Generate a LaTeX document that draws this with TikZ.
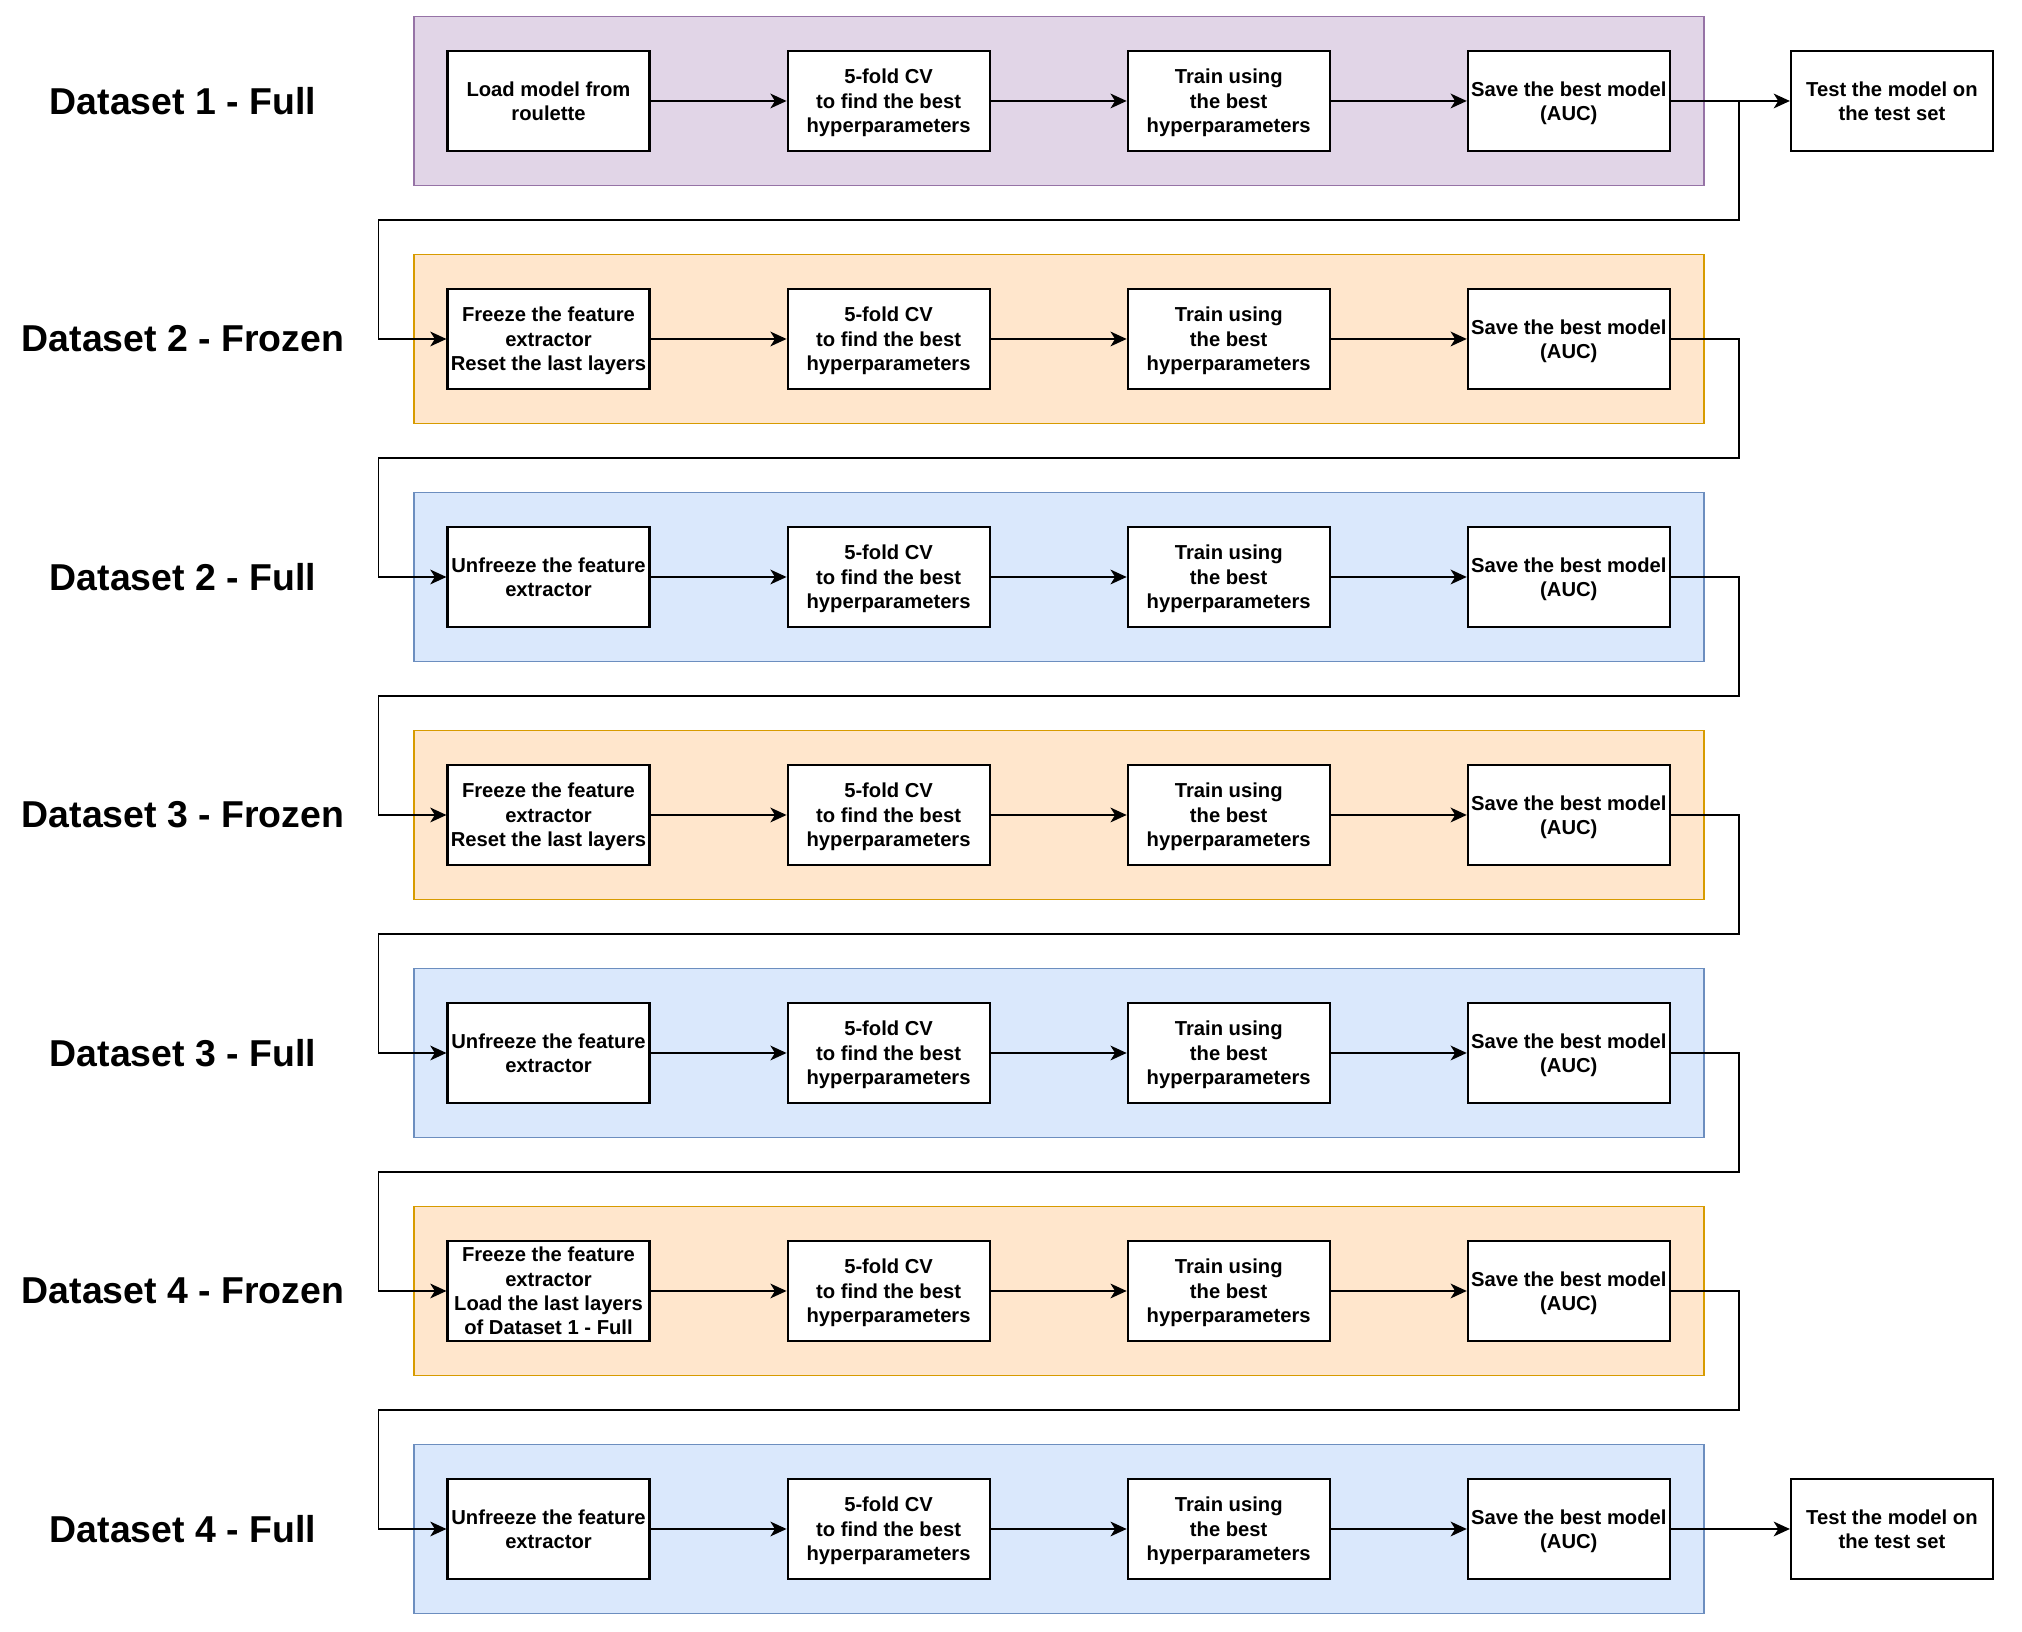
\documentclass[tikz,border=0pt]{standalone}
\usepackage{fontspec}
\setmainfont{Liberation Sans}
\usetikzlibrary{positioning,arrows.meta}

\definecolor{lilacF}{HTML}{E1D5E7}
\definecolor{lilacL}{HTML}{9673A6}
\definecolor{peachF}{HTML}{FFE6CC}
\definecolor{peachL}{HTML}{D79B00}
\definecolor{skyF}{HTML}{DAE8FC}
\definecolor{skyL}{HTML}{6C8EBF}

\tikzset{
  stepbox/.style  = {shape=rectangle, draw, fill=white, align=center,
                     line width=0.6pt, minimum width=2.02cm, minimum height=1cm,
                     inner xsep=0.5pt, inner ysep=1pt, text depth=0pt,
                     font=\fontsize{5.75}{6.95}\selectfont\bfseries},
  panel/.style    = {shape=rectangle, draw, line width=0.55pt,
                     minimum width=12.9cm, minimum height=1.69cm},
  rowlabel/.style = {font=\fontsize{10.65}{12.8}\selectfont\bfseries},
  flow/.style     = {draw, line width=0.5pt,
                     -{Stealth[length=4.6pt, width=4.2pt, inset=1.3pt]}}
}

\begin{document}
\begin{tikzpicture}
  [
    node distance = 1.36cm
  ]
  \useasboundingbox (0,0) rectangle (20.22,-16.32);
  % one row per training stage
  \foreach \i/\name/\look/\first in {
      1/Dataset 1 - Full/lilac/{Load model from\\roulette},
      2/Dataset 2 - Frozen/peach/{Freeze the feature\\extractor\\Reset the last layers},
      3/Dataset 2 - Full/sky/{Unfreeze the feature\\extractor},
      4/Dataset 3 - Frozen/peach/{Freeze the feature\\extractor\\Reset the last layers},
      5/Dataset 3 - Full/sky/{Unfreeze the feature\\extractor},
      6/Dataset 4 - Frozen/peach/{Freeze the feature\\extractor\\Load the last layers\\of Dataset 1 - Full},
      7/Dataset 4 - Full/sky/{Unfreeze the feature\\extractor}}
  {
    \pgfmathsetmacro\rowy{-1.01-2.38*(\i-1)}
    \node [panel, fill=\look F, draw=\look L] (p\i) at (10.587,\rowy) {};
    \node [rowlabel] (d\i) at (1.83,\rowy) {\name};
    \node [stepbox] (a\i) at (5.485,\rowy) {\first};
    \node [stepbox, right=of a\i] (b\i) {5-fold CV\\to find the best\\hyperparameters};
    \node [stepbox, right=of b\i] (c\i) {Train using\\the best\\hyperparameters};
    \node [stepbox, right=of c\i] (s\i) {Save the best model\\(AUC)};
    \draw [flow] (a\i) -- (b\i);
    \draw [flow] (b\i) -- (c\i);
    \draw [flow] (c\i) -- (s\i);
  }
  \node [stepbox, right=1.19cm of s1] (t1) {Test the model on\\the test set};
  \node [stepbox, right=1.19cm of s7] (t7) {Test the model on\\the test set};
  \draw [flow] (s1) -- (t1);
  \draw [flow] (s7) -- (t7);
  % hand the saved model down to the next stage
  \foreach \i [evaluate=\i as \j using int(\i+1)] in {1,...,6}
    \draw [flow] (s\i.east) -| ([xshift=0.68cm, yshift=-1.19cm]s\i.east)
                 -| ([xshift=-0.68cm]a\j.west) -- (a\j.west);
\end{tikzpicture}
\end{document}
